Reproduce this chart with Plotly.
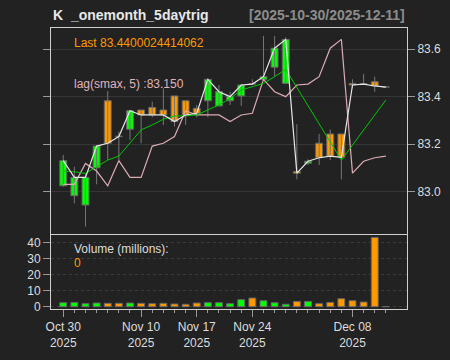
import plotly.graph_objects as go
from datetime import datetime

# ---- data ----
dates = ["2025-10-30", "2025-10-31", "2025-11-03", "2025-11-04", "2025-11-05",
         "2025-11-06", "2025-11-07", "2025-11-10", "2025-11-11", "2025-11-12",
         "2025-11-13", "2025-11-14", "2025-11-17", "2025-11-18", "2025-11-19",
         "2025-11-20", "2025-11-21", "2025-11-24", "2025-11-25", "2025-11-26",
         "2025-11-28", "2025-12-01", "2025-12-02", "2025-12-03", "2025-12-04",
         "2025-12-05", "2025-12-08", "2025-12-09", "2025-12-10", "2025-12-11"]

opens = [83.025, 82.983, 82.944, 83.101, 83.383, 83.234, 83.263, 83.344, 83.355, 83.344,
         83.403, 83.383, 83.351, 83.383, 83.361, 83.383, 83.403, 83.455, 83.473, 83.524,
         83.456, 83.085, 83.120, 83.204, 83.243, 83.243, 83.456, 83.455, 83.463, 83.440]
highs = [83.155, 83.105, 83.077, 83.195, 83.424, 83.253, 83.341, 83.344, 83.379, 83.435,
         83.403, 83.383, 83.365, 83.473, 83.449, 83.421, 83.452, 83.473, 83.656, 83.656,
         83.650, 83.284, 83.136, 83.243, 83.262, 83.243, 83.473, 83.496, 83.484, 83.440]
lows = [83.021, 82.951, 82.853, 83.031, 83.133, 83.133, 83.218, 83.204, 83.313, 83.281,
        83.274, 83.281, 83.313, 83.313, 83.361, 83.365, 83.361, 83.449, 83.473, 83.484,
        83.456, 83.052, 83.112, 83.112, 83.133, 83.052, 83.435, 83.453, 83.421, 83.440]
closes = [83.131, 83.060, 83.060, 83.192, 83.204, 83.232, 83.341, 83.323, 83.323, 83.323,
          83.295, 83.323, 83.330, 83.473, 83.421, 83.400, 83.449, 83.453, 83.484, 83.604,
          83.641, 83.078, 83.128, 83.143, 83.150, 83.145, 83.449, 83.453, 83.445, 83.440]
# closes of the 5 sessions before the window (feed the lagged series)
prior_closes = [83.031, 83.031, 83.119, 83.087, 83.025]

# green trend line (gaps where no value)
trend = [83.087, 83.084, 83.077, 83.105, 83.133, 83.150, 83.204, 83.260, 83.281, 83.305,
         83.319, 83.319, 83.323, 83.344, 83.365, 83.392, 83.428, 83.442, 83.456, 83.484,
         83.515, None, None, None, None, 83.133, None, None, None, 83.386]

volume = [2.5, 2.7, 1.9, 2.3, 2.1, 2.1, 2.3, 2.1, 1.9, 2.1,
          1.7, 1.5, 2.3, 2.5, 2.5, 1.9, 4.4, 5.4, 3.75, 2.5,
          1.5, 3.3, 3.3, 1.9, 2.7, 5.0, 3.75, 2.9, 43.3, 0]

last_label = "83.4400024414062"
title_left = "K\u00a0 _onemonth_5daytrig"
title_right = "[2025-10-30/2025-12-11]"

# ---- derived ----
n = len(dates)
idx = list(range(n))
allc = prior_closes + closes
lag5 = allc[:n]

UP = "#00FF00"
DN = "#FF9900"
up = [c >= o for o, c in zip(opens, closes)]
body_col = [UP if u else DN for u in up]
vol_col = [UP if u else DN for u in up]
vol_col[-1] = "#666666"
base = [min(o, c) for o, c in zip(opens, closes)]
height = [max(abs(c - o), 0.0015) for o, c in zip(opens, closes)]

wx, wy = [], []
for i in idx:
    wx += [i, i, None]
    wy += [lows[i], highs[i], None]


def lab(d):
    dt = datetime.strptime(d, "%Y-%m-%d")
    return dt.strftime("%b %d") + "<br>" + dt.strftime("%Y")


major = [0, 2, 7, 12, 17, 21, 26, 29]
labeled = {0, 7, 12, 17, 26}
major_text = [lab(dates[i]) if i in labeled else "" for i in major]

FONT = "Liberation Sans, Arial, sans-serif"
BORDER = "#d0d0d0"
TICK = "#999999"
TXT = "#dddddd"

fig = go.Figure()
# wicks
fig.add_trace(go.Scatter(x=wx, y=wy, mode="lines", line=dict(color="#777777", width=1),
                         xaxis="x2", yaxis="y2", hoverinfo="skip"))
# bodies
fig.add_trace(go.Bar(x=idx, y=height, base=base, width=0.62,
                     marker=dict(color=body_col, line=dict(color="#666666", width=1)),
                     xaxis="x2", yaxis="y2"))
# lines
fig.add_trace(go.Scatter(x=idx, y=lag5, mode="lines", line=dict(color="#dcaab3", width=1.2),
                         xaxis="x2", yaxis="y2"))
fig.add_trace(go.Scatter(x=idx, y=trend, mode="lines", connectgaps=True,
                         line=dict(color="#00C800", width=1), xaxis="x2", yaxis="y2"))
fig.add_trace(go.Scatter(x=idx, y=closes, mode="lines", line=dict(color="#e6e6e6", width=1.2),
                         xaxis="x2", yaxis="y2"))
# volume
vol_plot = [v if v > 0 else 0.06 for v in volume]
fig.add_trace(go.Bar(x=idx, y=vol_plot, width=0.62,
                     marker=dict(color=vol_col, line=dict(color="#666666", width=1)),
                     xaxis="x", yaxis="y"))

xr = [-1.1, 30.9]
fig.update_layout(
    width=450, height=360,
    margin=dict(l=51, r=43, t=28, b=51),
    paper_bgcolor="#222222", plot_bgcolor="#222222",
    showlegend=False, barmode="overlay", hovermode=False,
    font=dict(family=FONT, size=12, color=TXT),
    xaxis=dict(domain=[0, 1], anchor="y", range=xr, showgrid=False, zeroline=False,
               showline=True, mirror=True, linecolor=BORDER, linewidth=1,
               tickmode="array", tickvals=major, ticktext=major_text,
               ticks="outside", ticklen=7, tickcolor=TICK, tickwidth=1,
               minor=dict(tickmode="array", tickvals=idx, ticks="outside", ticklen=3,
                          tickcolor=TICK, showgrid=False),
               tickfont=dict(size=12, color=TXT), automargin=False),
    xaxis2=dict(domain=[0, 1], anchor="y2", matches="x", range=xr, showgrid=False,
                zeroline=False, showline=True, mirror=True, linecolor=BORDER,
                linewidth=1, showticklabels=False, ticks=""),
    yaxis=dict(domain=[0, 0.2616], anchor="x", range=[-1.44, 44.5], side="left",
               tickvals=[0, 10, 20, 30, 40], ticks="outside", ticklen=7, tickcolor=TICK,
               showline=True, mirror=True, linecolor=BORDER, zeroline=False,
               showgrid=True, gridcolor="#3c3c3c", griddash="dot", gridwidth=1,
               tickfont=dict(size=12, color=TXT), automargin=False),
    yaxis2=dict(domain=[0.2669, 1], anchor="x2", range=[82.822, 83.689], side="right",
                tickvals=[83.0, 83.2, 83.4, 83.6], tickformat=".1f",
                ticks="outside", ticklen=7, tickcolor=TICK,
                showline=True, mirror="ticks", linecolor=BORDER, zeroline=False,
                showgrid=True, gridcolor="#363636", gridwidth=1,
                tickfont=dict(size=12, color=TXT), automargin=False),
)

ann = [
    dict(text="<b>" + title_left + "</b>", x=0, y=1.0463, xanchor="left",
         font=dict(size=14, color="#e8e8e8")),
    dict(text="<b>" + title_right + "</b>", x=1, y=1.0463, xanchor="right",
         font=dict(size=14, color="#8c8c8c")),
    dict(text="Last " + last_label, x=0.059, y=0.948, xanchor="left",
         font=dict(size=12, color=DN)),
    dict(text="lag(smax, 5) :%.3f" % lag5[-1], x=0.059, y=0.8007, xanchor="left",
         font=dict(size=12, color="#e0b4bc")),
    dict(text="Volume (millions):", x=0.059, y=0.2135, xanchor="left",
         font=dict(size=12, color=TXT)),
    dict(text="%g" % volume[-1], x=0.059, y=0.1637, xanchor="left",
         font=dict(size=12, color=DN)),
]
for a in ann:
    a.update(xref="paper", yref="paper", yanchor="middle", showarrow=False)
    fig.add_annotation(**a)

fig.write_html("out.html",
               config={"displayModeBar": False, "staticPlot": True},
               post_script="document.body.style.margin='0';document.body.style.background='#222222';")
